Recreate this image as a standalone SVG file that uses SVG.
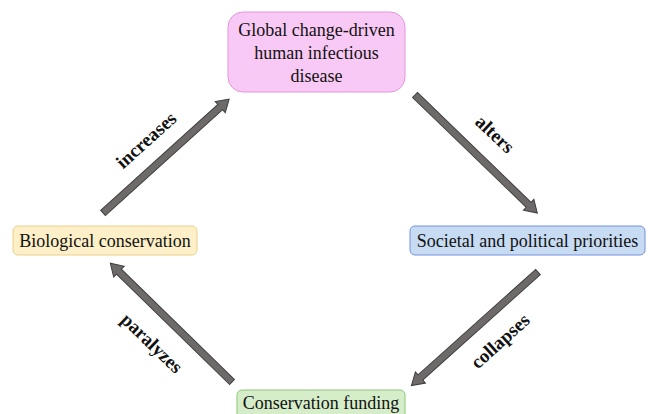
<svg xmlns="http://www.w3.org/2000/svg" width="648" height="414" viewBox="0 0 648 414">
<style>
.t{font-family:"Liberation Serif","Times New Roman",serif;font-size:18px;fill:#111;text-anchor:middle}
.l{font-family:"Liberation Serif","Times New Roman",serif;font-size:19px;font-weight:bold;fill:#111;text-anchor:middle;dominant-baseline:central}
.arr{fill:#6e6a6a;stroke:#3e3e3e;stroke-width:1}
</style>
<defs>
<path id="arrow" class="arr" d="M0,-3.5 L158,-3.5 L158,-7.5 L170,0 L158,7.5 L158,3.5 L0,3.5 Z"/>
</defs>
<rect width="648" height="414" fill="#fff"/>
<g id="connectors">
<use href="#arrow" transform="translate(103,213) rotate(-42.1)"/>
<use href="#arrow" transform="translate(415,95) rotate(44)"/>
<use href="#arrow" transform="translate(232,382) rotate(-135.7)"/>
<use href="#arrow" transform="translate(538,272) rotate(138.1)"/>
<text class="l" transform="translate(146,140) rotate(-42)">increases</text>
<text class="l" transform="translate(495,134) rotate(43)">alters</text>
<text class="l" transform="translate(152,343) rotate(44)">paralyzes</text>
<text class="l" transform="translate(500,341) rotate(-42)">collapses</text>
</g>
<g id="node-disease">
<rect x="228" y="12" width="177" height="80" rx="15" fill="#f9c9f5" stroke="#e494df" stroke-width="1"/>
<text class="t" x="316.5" y="36">Global change-driven</text>
<text class="t" x="316.5" y="59">human infectious</text>
<text class="t" x="316.5" y="82">disease</text>
</g>
<g id="node-conservation">
<rect x="13" y="226" width="184" height="29" rx="5" fill="#fdefc7" stroke="#eed08a" stroke-width="1"/>
<text class="t" x="105" y="247">Biological conservation</text>
</g>
<g id="node-priorities">
<rect x="410" y="226" width="235" height="29" rx="5" fill="#c7dbf2" stroke="#7392de" stroke-width="1"/>
<text class="t" x="527.5" y="247">Societal and political priorities</text>
</g>
<g id="node-funding">
<rect x="237" y="390" width="168" height="34" rx="5" fill="#d6edca" stroke="#8fc67d" stroke-width="1"/>
<text class="t" x="321" y="409">Conservation funding</text>
</g>
</svg>
